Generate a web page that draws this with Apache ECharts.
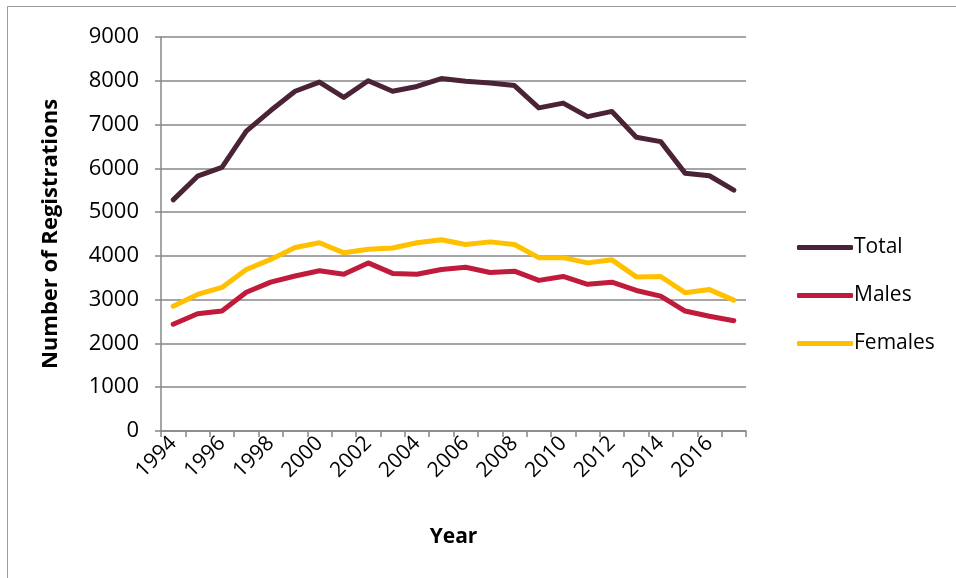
<!DOCTYPE html>
<html>
<head>
<meta charset="utf-8">
<script src="https://cdn.jsdelivr.net/npm/echarts@6/dist/echarts.min.js"></script>
<style>
  html, body { margin: 0; padding: 0; background: #ffffff; }
  #chart { width: 956px; height: 578px; }
</style>
</head>
<body>
<div id="chart"></div>
<script>
// Registrations per year, 1994-2017
var years = ['1994','1995','1996','1997','1998','1999','2000','2001','2002','2003','2004','2005',
             '2006','2007','2008','2009','2010','2011','2012','2013','2014','2015','2016','2017'];
var totalValues = [5280, 5820, 6020, 6850, 7320, 7760, 7970, 7620, 8000, 7760, 7870, 8050,
                   7990, 7950, 7890, 7380, 7490, 7180, 7300, 6710, 6610, 5890, 5830, 5500];
var maleValues = [2440, 2680, 2740, 3170, 3400, 3540, 3660, 3580, 3840, 3600, 3580, 3690,
                  3740, 3620, 3650, 3440, 3530, 3350, 3400, 3210, 3080, 2740, 2620, 2520];
var femaleValues = [2850, 3120, 3280, 3690, 3920, 4190, 4300, 4070, 4150, 4180, 4300, 4370,
                    4260, 4320, 4260, 3960, 3960, 3840, 3910, 3520, 3530, 3160, 3230, 2990];
var yTicks = [0, 1000, 2000, 3000, 4000, 5000, 6000, 7000, 8000, 9000];

var FONT = '"Open Sans", "Liberation Sans", sans-serif';
var AXIS_GREY = '#878787';

var chart = echarts.init(document.getElementById('chart'), null, { renderer: 'canvas' });

function lineSeries(name, values, color) {
  return {
    name: name,
    type: 'line',
    data: values,
    symbol: 'none',
    smooth: false,
    lineStyle: { color: color, width: 5, cap: 'round', join: 'round' },
    itemStyle: { color: color },
    emphasis: { disabled: true }
  };
}

chart.setOption({
  animation: false,
  backgroundColor: '#ffffff',
  graphic: [{
    type: 'rect',
    shape: { x: 7.5, y: 6.5, width: 1000, height: 1000 },
    style: { fill: 'none', stroke: '#9a9a9a', lineWidth: 1 },
    silent: true
  }],
  grid: { left: 161, right: 210, top: 37, bottom: 147, containLabel: false },
  legend: {
    orient: 'vertical',
    left: 792,
    top: 232,
    itemWidth: 56,
    itemHeight: 5,
    itemGap: 27,
    icon: 'roundRect',
    textStyle: { fontFamily: FONT, fontSize: 21, color: '#000000', padding: [0, 0, 0, -4] },
    data: ['Total', 'Males', 'Females']
  },
  xAxis: {
    type: 'category',
    data: years,
    boundaryGap: true,
    name: 'Year',
    nameLocation: 'middle',
    nameGap: 96,
    nameTextStyle: { fontFamily: FONT, fontSize: 21, fontWeight: 'bold', color: '#000000' },
    axisLine: { lineStyle: { color: AXIS_GREY, width: 1.5 } },
    axisTick: { show: true, alignWithLabel: false, interval: 0, length: 6, lineStyle: { color: AXIS_GREY, width: 1.5 } },
    axisLabel: { interval: 1, rotate: 45, margin: 9, fontFamily: FONT, fontSize: 21, color: '#000000' },
    splitLine: { show: false }
  },
  yAxis: {
    type: 'value',
    min: yTicks[0],
    max: yTicks[yTicks.length - 1],
    interval: 1000,
    name: 'Number of Registrations',
    nameLocation: 'middle',
    nameGap: 99,
    nameRotate: 90,
    nameTextStyle: { fontFamily: FONT, fontSize: 22, fontWeight: 'bold', color: '#000000' },
    axisLine: { show: true, lineStyle: { color: AXIS_GREY, width: 1.5 } },
    axisTick: { show: true, length: 6, lineStyle: { color: AXIS_GREY, width: 1.5 } },
    axisLabel: {
      margin: 22, fontFamily: FONT, fontSize: 22, color: '#000000',
      formatter: function (v) { return String(v); }
    },
    splitLine: { show: true, lineStyle: { color: AXIS_GREY, width: 1.5 } }
  },
  series: [
    lineSeries('Total', totalValues, '#4B2336'),
    lineSeries('Males', maleValues, '#C11B3C'),
    lineSeries('Females', femaleValues, '#FFC000')
  ]
});
</script>
</body>
</html>
